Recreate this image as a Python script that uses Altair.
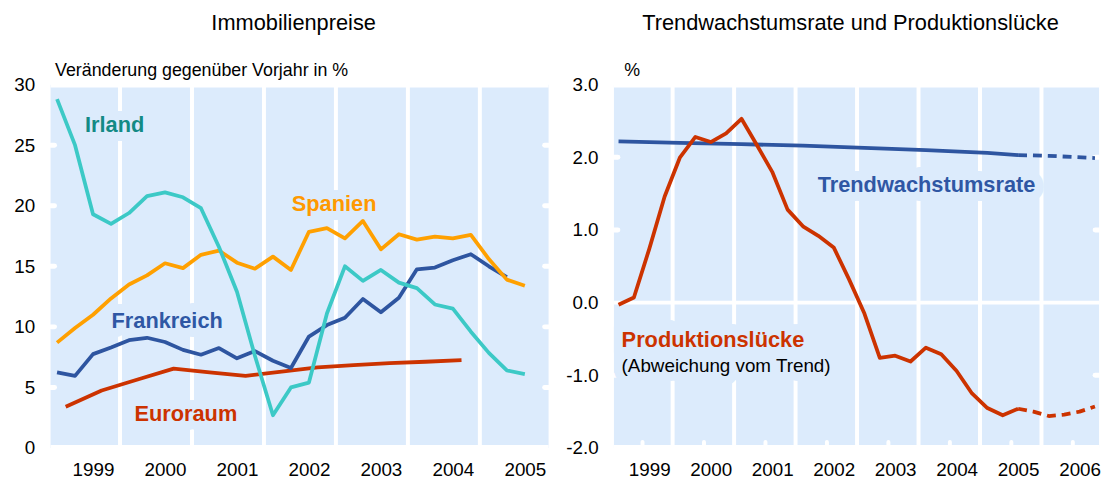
import altair as alt
import pandas as pd

FONT = "Liberation Sans"
BG = "#dcebfc"
W1, W2, H = 503, 490, 367

# ---------------- Left panel: Immobilienpreise (quarterly) ----------------
Q_LEFT = [1998.5, 1998.75, 1999.0, 1999.25, 1999.5, 1999.75, 2000.0, 2000.25, 2000.5,
          2000.75, 2001.0, 2001.25, 2001.5, 2001.75, 2002.0, 2002.25, 2002.5, 2002.75,
          2003.0, 2003.25, 2003.5, 2003.75, 2004.0, 2004.25, 2004.5, 2004.75, 2005.0]
IRLAND = [28.8, 25.0, 19.3, 18.5, 19.4, 20.8, 21.1, 20.7, 19.8, 16.6, 12.9, 7.6, 2.7, 5.0,
          5.4, 11.1, 15.0, 13.8, 14.7, 13.65, 13.2, 11.85, 11.5, 9.6, 7.85, 6.4, 6.1]
SPANIEN = [8.7, 9.9, 11.0, 12.35, 13.5, 14.25, 15.25, 14.85, 15.95, 16.3, 15.3, 14.8, 15.8,
           14.7, 17.85, 18.15, 17.3, 18.75, 16.4, 17.65, 17.2, 17.45, 17.3, 17.6, 15.6, 13.9, 13.4]
FRANKREICH = [6.25, 5.95, 7.75, 8.3, 8.9, 9.1, 8.75, 8.1, 7.7, 8.25, 7.4, 8.0, 7.2, 6.6,
              9.2, 10.15, 10.75, 12.3, 11.2, 12.4, 14.75, 14.9, 15.5, 16.0, 15.0, 14.1]
EURO_X = [1998.62, 1999.12, 1999.62, 2000.12, 2000.62, 2001.12, 2001.62, 2002.12, 2002.62,
          2003.12, 2003.62, 2004.12]
EURORAUM = [3.4, 4.75, 5.65, 6.55, 6.25, 5.95, 6.3, 6.65, 6.85, 7.0, 7.12, 7.25]

YEARS_L = [1999, 2000, 2001, 2002, 2003, 2004, 2005]
GRID_L = [1999.375, 2000.375, 2001.375, 2002.375, 2003.375, 2004.375]
YTICKS_L = [0, 5, 10, 15, 20, 25, 30]
YNOTCH_L = [5, 10, 15, 20, 25]

LAB_L = ["Irland", "Spanien", "Frankreich", "Euroraum"]
LAB_L_X = [1999.30, 2002.35, 2000.03, 2000.29]
LAB_L_Y = [26.65, 20.1, 10.45, 2.8]
LAB_L_COL = ["#138a85", "#ff9900", "#2f57a4", "#cc3300"]

# ---------------- Right panel: Trendwachstumsrate und Produktionslücke ----------------
Q_RIGHT = Q_LEFT
GAP = [-0.03, 0.07, 0.74, 1.46, 2.0, 2.28, 2.21, 2.33, 2.53, 2.17, 1.8, 1.28, 1.05, 0.92,
       0.76, 0.32, -0.15, -0.76, -0.73, -0.81, -0.62, -0.71, -0.94, -1.25, -1.45, -1.55, -1.46]
Q_RIGHT_F = [2005.0, 2005.25, 2005.5, 2005.75, 2006.0, 2006.25]
GAP_F = [-1.46, -1.50, -1.56, -1.54, -1.50, -1.43]
TREND_X = [1998.5, 1999.5, 2000.5, 2001.5, 2002.5, 2003.5, 2004.5, 2005.0]
TREND = [2.22, 2.20, 2.18, 2.16, 2.13, 2.10, 2.06, 2.03]
TREND_FX = [2005.0, 2005.5, 2006.25]
TREND_F = [2.03, 2.02, 1.99]

YEARS_R = [1999, 2000, 2001, 2002, 2003, 2004, 2005, 2006]
GRID_R = [1999.38, 2000.38, 2001.38, 2002.38, 2003.38, 2004.38, 2005.38]
XNOTCH_R = [1998.89, 1999.89, 2000.89, 2001.89, 2002.89, 2003.89, 2004.89, 2005.89]
YTICKS_R = [-2, -1, 0, 1, 2, 3]
YNOTCH_R = [-1, 1, 2]

LAB_R = ["Trendwachstumsrate", "Produktionslücke", "(Abweichung vom Trend)"]
LAB_R_X = [2003.51, 1998.55, 1998.55]
LAB_R_Y = [1.62, -0.51, -0.87]
LAB_R_COL = ["#2f57a4", "#cc3300", "#000000"]

TICK_FS = 19
SUB_FS = 18
LAB_FS = 22
NOTE_FS = 19
LW = 3.8


def frame_rules(w, at):
    # white inner frame line along the top / bottom edge of the plot area
    return alt.Chart(pd.DataFrame({"k": [0]})).mark_rule(color="white", strokeWidth=6).encode(
        y=alt.value(at), x=alt.value(0), x2=alt.value(w))


# ---------------- build left ----------------
xs_l = alt.Scale(domain=[1998.41, 2005.33], nice=False, zero=False)
ys_l = alt.Scale(domain=[0, 30], nice=False, zero=False)
ax_xl = alt.Axis(values=YEARS_L, format="d", ticks=False, domain=False, grid=False,
                 labelPadding=13, labelFlush=False, title=None)
ax_yl = alt.Axis(values=YTICKS_L, format="d", ticks=False, domain=False, grid=False,
                 labelPadding=16, title="Veränderung gegenüber Vorjahr in %", titleAngle=0,
                 titleAlign="left", titleBaseline="middle", titleX=4, titleY=-14,
                 titleFontSize=SUB_FS, titleFontWeight="normal", titleColor="black")

def XL(f):
    return alt.X(f, type="quantitative", scale=xs_l, axis=ax_xl)

def YL(f):
    return alt.Y(f, type="quantitative", scale=ys_l, axis=ax_yl)

grid_l = alt.Chart(pd.DataFrame({"g": GRID_L})).mark_rule(color="white", strokeWidth=4).encode(x=XL("g"))
ynl = pd.DataFrame({"v": YNOTCH_L})
notch_l1 = alt.Chart(ynl).mark_rule(color="white", strokeWidth=5, strokeCap="round").encode(
    y=YL("v"), x=alt.value(0), x2=alt.value(4))
notch_l2 = alt.Chart(ynl).mark_rule(color="white", strokeWidth=5, strokeCap="round").encode(
    y=YL("v"), x=alt.value(W1 - 4), x2=alt.value(W1))

lab_l = pd.DataFrame({"t": LAB_L, "x": LAB_L_X, "y": LAB_L_Y, "c": LAB_L_COL})
halo_l = alt.Chart(lab_l).mark_text(font=FONT, fontSize=LAB_FS, fontWeight="bold", fill=BG, stroke=BG,
                                    strokeWidth=18, strokeJoin="round", align="center",
                                    baseline="middle", clip=True).encode(
    x=XL("x"), y=YL("y"), text="t:N")
text_l = alt.Chart(lab_l).mark_text(font=FONT, fontSize=LAB_FS, fontWeight="bold", align="center",
                                    baseline="middle").encode(
    x=XL("x"), y=YL("y"), text="t:N", color=alt.Color("c:N", scale=None))

def line_l(xv, yv, color):
    df = pd.DataFrame({"x": xv, "y": yv})
    return alt.Chart(df).mark_line(color=color, strokeWidth=LW, strokeJoin="round").encode(
        x=XL("x"), y=YL("y"))

left = alt.layer(
    grid_l, frame_rules(W1, 0), frame_rules(W1, H), notch_l1, notch_l2, halo_l,
    line_l(EURO_X, EURORAUM, "#cc3300"),
    line_l(Q_LEFT[:len(FRANKREICH)], FRANKREICH, "#2e55a0"),
    line_l(Q_LEFT, SPANIEN, "#ffa000"),
    line_l(Q_LEFT, IRLAND, "#3cc9c6"),
    text_l,
).properties(width=W1, height=H, title=alt.TitleParams("Immobilienpreise", dx=-6))

# ---------------- build right ----------------
xs_r = alt.Scale(domain=[1998.425, 2006.317], nice=False, zero=False)
ys_r = alt.Scale(domain=[-2, 3], nice=False, zero=False)
ax_xr = alt.Axis(values=YEARS_R, format="d", ticks=False, domain=False, grid=False,
                 labelPadding=13, labelFlush=False, title=None)
ax_yr = alt.Axis(values=YTICKS_R, ticks=False, domain=False, grid=False, labelPadding=16,
                 labelExpr="(datum.value < 0 ? '-' : '') + format(abs(datum.value), '.1f')",
                 title="%", titleAngle=0, titleAlign="left", titleBaseline="middle",
                 titleX=10, titleY=-14, titleFontSize=SUB_FS, titleFontWeight="normal",
                 titleColor="black")

def XR(f):
    return alt.X(f, type="quantitative", scale=xs_r, axis=ax_xr)

def YR(f):
    return alt.Y(f, type="quantitative", scale=ys_r, axis=ax_yr)

grid_r = alt.Chart(pd.DataFrame({"g": GRID_R})).mark_rule(color="white", strokeWidth=4).encode(x=XR("g"))
zero_r = alt.Chart(pd.DataFrame({"z": [0]})).mark_rule(color="white", strokeWidth=4).encode(y=YR("z"))
ynr = pd.DataFrame({"v": YNOTCH_R})
notch_r1 = alt.Chart(ynr).mark_rule(color="white", strokeWidth=5, strokeCap="round").encode(
    y=YR("v"), x=alt.value(0), x2=alt.value(4))
notch_r2 = alt.Chart(ynr).mark_rule(color="white", strokeWidth=5, strokeCap="round").encode(
    y=YR("v"), x=alt.value(W2 - 4), x2=alt.value(W2))
notch_r3 = alt.Chart(pd.DataFrame({"v": XNOTCH_R})).mark_rule(
    color="white", strokeWidth=4, strokeCap="round").encode(
    x=XR("v"), y=alt.value(H - 6), y2=alt.value(H))

lab_r = pd.DataFrame({"t": LAB_R, "x": LAB_R_X, "y": LAB_R_Y, "c": LAB_R_COL})
halo_r1 = alt.Chart(lab_r.iloc[[0]]).mark_text(
    font=FONT, fontSize=LAB_FS, fontWeight="bold", fill=BG, stroke=BG, strokeWidth=18,
    strokeJoin="round", align="center", baseline="middle", clip=True).encode(
    x=XR("x"), y=YR("y"), text="t:N")
halo_r2 = alt.Chart(lab_r.iloc[[1]]).mark_text(
    font=FONT, fontSize=LAB_FS, fontWeight="bold", fill=BG, stroke=BG, strokeWidth=22,
    strokeJoin="round", align="left", baseline="middle", clip=True).encode(
    x=XR("x"), y=YR("y"), text="t:N")
halo_r3 = alt.Chart(lab_r.iloc[[2]]).mark_text(
    font=FONT, fontSize=NOTE_FS, fill=BG, stroke=BG, strokeWidth=18,
    strokeJoin="round", align="left", baseline="middle", clip=True).encode(
    x=XR("x"), y=YR("y"), text="t:N")
text_r1 = alt.Chart(lab_r.iloc[[0]]).mark_text(
    font=FONT, fontSize=LAB_FS, fontWeight="bold", align="center", baseline="middle").encode(
    x=XR("x"), y=YR("y"), text="t:N", color=alt.Color("c:N", scale=None))
text_r2 = alt.Chart(lab_r.iloc[[1]]).mark_text(
    font=FONT, fontSize=LAB_FS, fontWeight="bold", align="left", baseline="middle").encode(
    x=XR("x"), y=YR("y"), text="t:N", color=alt.Color("c:N", scale=None))
text_r3 = alt.Chart(lab_r.iloc[[2]]).mark_text(
    font=FONT, fontSize=NOTE_FS, align="left", baseline="middle").encode(
    x=XR("x"), y=YR("y"), text="t:N", color=alt.Color("c:N", scale=None))

def line_r(xv, yv, color, dash=None):
    df = pd.DataFrame({"x": xv, "y": yv})
    kw = dict(color=color, strokeWidth=LW, strokeJoin="round")
    if dash:
        kw["strokeDash"] = dash
    return alt.Chart(df).mark_line(**kw).encode(x=XR("x"), y=YR("y"))

right = alt.layer(
    grid_r, frame_rules(W2, 0), frame_rules(W2, H), zero_r, notch_r1, notch_r2, notch_r3,
    halo_r1, halo_r2, halo_r3,
    line_r(TREND_X, TREND, "#2e55a0"),
    line_r(TREND_FX, TREND_F, "#2e55a0", [9, 6]),
    line_r(Q_RIGHT, GAP, "#cc3300"),
    line_r(Q_RIGHT_F, GAP_F, "#cc3300", [9, 6]),
    text_r1, text_r2, text_r3,
).properties(width=W2, height=H,
             title=alt.TitleParams("Trendwachstumsrate und Produktionslücke", dx=-6))

chart = alt.hconcat(left, right, spacing=14).properties(
    padding={"left": 5, "top": 2, "right": 4, "bottom": 4}
).configure_view(fill=BG, stroke=None).configure_axis(
    labelFont=FONT, labelFontSize=TICK_FS, labelColor="black", titleFont=FONT
).configure_title(
    font=FONT, fontSize=22, fontWeight="normal", color="black", anchor="middle",
    frame="group", offset=27
)

chart.save("out.html", embed_options={"renderer": "svg", "actions": False})
